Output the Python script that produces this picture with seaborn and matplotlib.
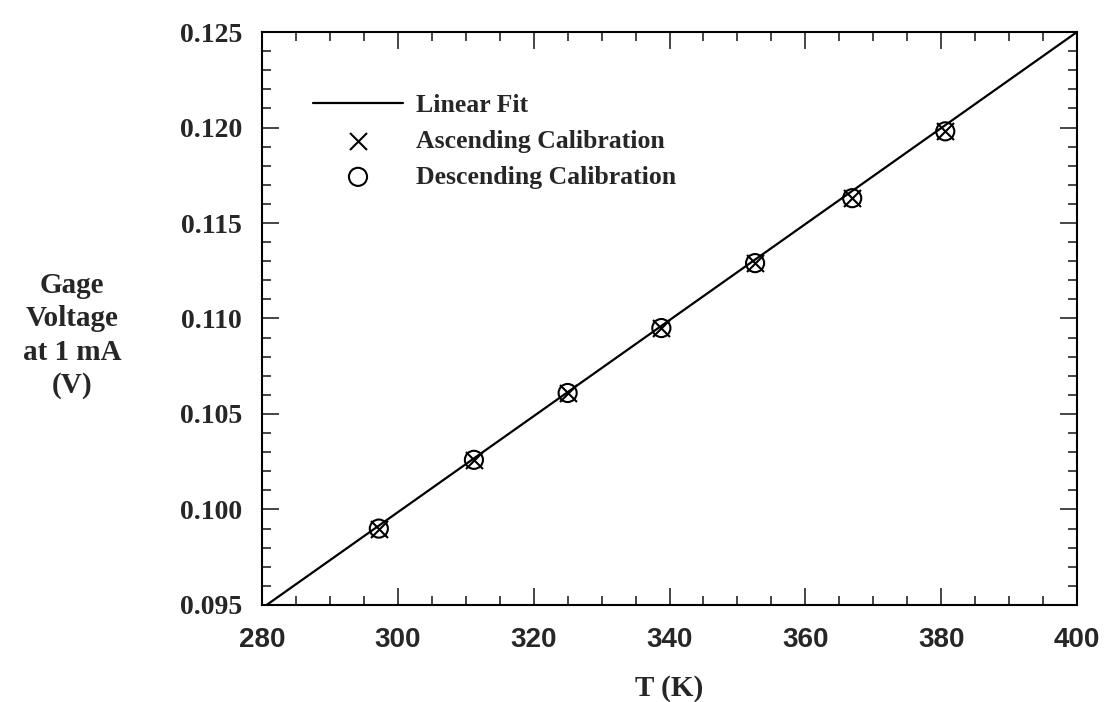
import matplotlib
matplotlib.use("Agg")
import matplotlib.pyplot as plt
from matplotlib.ticker import MultipleLocator, FormatStrFormatter
import numpy as np
import pandas as pd
import seaborn as sns

# calibration points
temp_k = [297.2, 311.2, 325.0, 338.8, 352.6, 366.9, 380.6]
volt_asc = [0.0990, 0.1026, 0.1061, 0.1095, 0.1129, 0.1163, 0.1198]
volt_desc = [0.0990, 0.1026, 0.1061, 0.1095, 0.1129, 0.1163, 0.1198]

# linear fit end points
fit_t = [280.0, 400.0]
fit_v = [0.09483, 0.12500]

sns.set_theme(style="ticks")
plt.rcParams["font.family"] = ["Liberation Serif", "DejaVu Serif"]
plt.rcParams["font.weight"] = "bold"

fig = plt.figure(figsize=(11.07, 7.02), dpi=100)
ax = fig.add_axes([0.2367, 0.1382, 0.7362, 0.8162])

fit_df = pd.DataFrame({"T": fit_t, "V": fit_v})
sns.lineplot(data=fit_df, x="T", y="V", ax=ax, color="black", lw=1.6, label="Linear Fit")
sns.scatterplot(x=temp_k, y=volt_asc, ax=ax, marker="x", s=150, color="black",
                linewidth=1.5, label="Ascending Calibration", zorder=3)
sns.scatterplot(x=temp_k, y=volt_desc, ax=ax, marker="o", s=170, facecolor="none",
                edgecolor="black", linewidth=1.5, label="Descending Calibration", zorder=3)

ax.set_xlim(280, 400)
ax.set_ylim(0.095, 0.125)
ax.xaxis.set_major_locator(MultipleLocator(20))
ax.xaxis.set_minor_locator(MultipleLocator(5))
ax.yaxis.set_major_locator(MultipleLocator(0.005))
ax.yaxis.set_minor_locator(MultipleLocator(0.001))
ax.yaxis.set_major_formatter(FormatStrFormatter("%.3f"))
ax.tick_params(which="both", direction="in", top=True, right=True, width=1.2)
ax.tick_params(which="major", length=12)
ax.tick_params(which="minor", length=6.5)
ax.tick_params(axis="x", which="major", pad=16, labelsize=20)
ax.tick_params(axis="y", which="major", pad=14.5, labelsize=20)
for lab in ax.get_xticklabels():
    lab.set_fontweight("bold")
    lab.set_family(["Liberation Sans", "DejaVu Sans"])
for lab in ax.get_yticklabels():
    lab.set_fontweight("bold")
for s in ax.spines.values():
    s.set_linewidth(1.5)
    s.set_color("black")

ax.set_xlabel("T (K)", fontsize=21, fontweight="bold", va="center")
ax.xaxis.set_label_coords(0.5, -0.145)
ax.set_ylabel("Gage\nVoltage\nat 1 mA\n(V)", fontsize=21, fontweight="bold",
              rotation=0, ha="center", va="center", linespacing=1.3)
ax.yaxis.set_label_coords(-0.233, 0.47)

ax.legend(loc="upper left", bbox_to_anchor=(0.0626, 0.892), frameon=False,
          handlelength=3.5, handletextpad=0.5, labelspacing=0.5,
          borderpad=0, borderaxespad=0, prop={"weight": "bold", "size": 18.5})

fig.savefig("out.png", dpi=100)
